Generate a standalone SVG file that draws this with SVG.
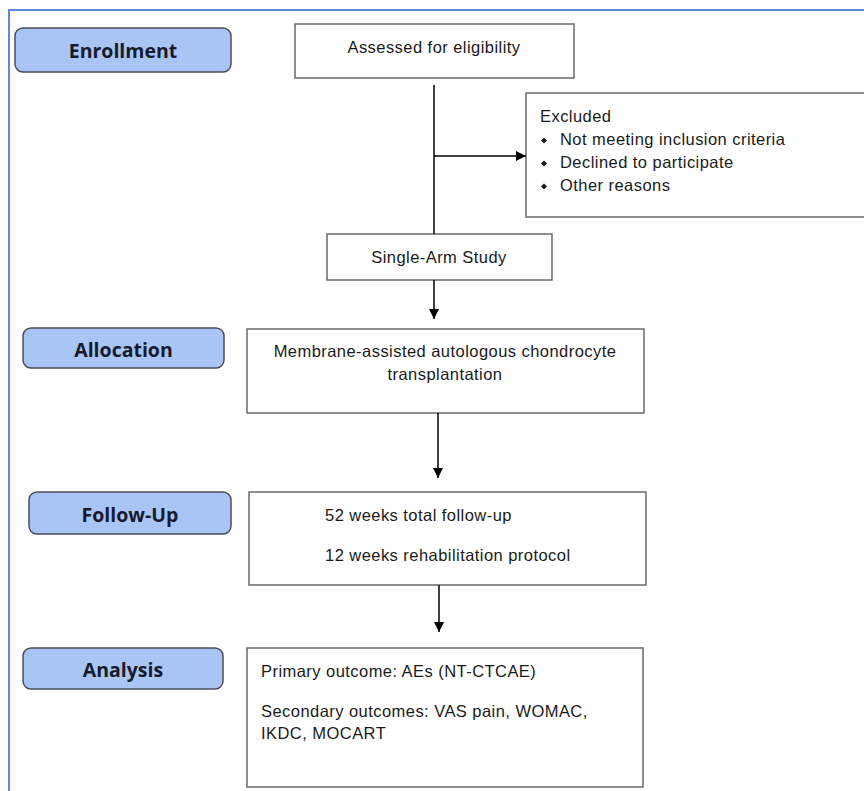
<svg xmlns="http://www.w3.org/2000/svg" width="864" height="791" viewBox="0 0 864 791">
<defs>
<marker id="ah" viewBox="0 0 10 10" refX="10" refY="5" markerWidth="11" markerHeight="10" markerUnits="userSpaceOnUse" orient="auto">
<path d="M0,0 L10,5 L0,10 z" fill="#000"/>
</marker>
<style>
.stage rect{fill:#a8c5f6;stroke:#4a4d5a;stroke-width:1.5}
.stage text{font-family:"Open Sans","DejaVu Sans",sans-serif;font-weight:bold;font-size:19.5px;fill:#161a2a;text-anchor:middle}
.box rect{fill:#fff;stroke:#6a6a6a;stroke-width:1.5}
.box text{font-family:"Liberation Sans",Arial,sans-serif;font-size:16.5px;letter-spacing:0.45px;fill:#1a1a1a}
.c{text-anchor:middle}
.conn line{stroke:#000;stroke-width:1.5;marker-end:url(#ah)}
.conn line.plain{marker-end:none}
</style>
</defs>
<rect width="864" height="791" fill="#fff"/>
<path d="M9,800 V10 H870" fill="none" stroke="#5b8bd2" stroke-width="2"/>

<g id="stage-enrollment" class="stage"><rect x="15" y="28" width="216" height="44" rx="8"/><text x="123" y="58">Enrollment</text></g>
<g id="stage-allocation" class="stage"><rect x="23" y="328" width="201" height="40" rx="8"/><text x="123.5" y="357">Allocation</text></g>
<g id="stage-followup" class="stage"><rect x="29" y="492" width="202" height="42" rx="8"/><text x="130" y="522">Follow-Up</text></g>
<g id="stage-analysis" class="stage"><rect x="23" y="648" width="200" height="41" rx="8"/><text x="123" y="677">Analysis</text></g>

<g id="assessed" class="box"><rect x="295" y="24" width="279" height="54"/><text class="c" x="434" y="53">Assessed for eligibility</text></g>
<g id="excluded" class="box"><rect x="526" y="93" width="345" height="124"/>
<text x="540" y="122">Excluded</text>
<path d="M544,137.5 l3,3 l-3,3 l-3,-3 z M544,160.5 l3,3 l-3,3 l-3,-3 z M544,183.5 l3,3 l-3,3 l-3,-3 z" fill="#1a1a1a"/>
<text x="560" y="145">Not meeting inclusion criteria</text>
<text x="560" y="168">Declined to participate</text>
<text x="560" y="191">Other reasons</text></g>
<g id="single-arm" class="box"><rect x="327" y="234" width="225" height="46"/><text class="c" x="439" y="263">Single-Arm Study</text></g>
<g id="allocation" class="box"><rect x="247" y="329" width="397" height="84"/><text class="c" x="445" y="357">Membrane-assisted autologous chondrocyte</text><text class="c" x="445" y="380">transplantation</text></g>
<g id="followup" class="box"><rect x="249" y="492" width="397" height="93"/><text x="325" y="521">52 weeks total follow-up</text><text x="325" y="561">12 weeks rehabilitation protocol</text></g>
<g id="analysis" class="box"><rect x="247" y="648" width="396" height="139"/><text x="261" y="677">Primary outcome: AEs (NT-CTCAE)</text><text x="261" y="717">Secondary outcomes: VAS pain, WOMAC,</text><text x="261" y="739">IKDC, MOCART</text></g>

<g id="connectors" class="conn">
<line class="plain" x1="434" y1="85" x2="434" y2="234"/>
<line x1="434" y1="156" x2="526" y2="156"/>
<line x1="434" y1="280" x2="434" y2="319"/>
<line x1="438" y1="413" x2="438" y2="478"/>
<line x1="439" y1="585" x2="439" y2="632"/>
</g>
</svg>
